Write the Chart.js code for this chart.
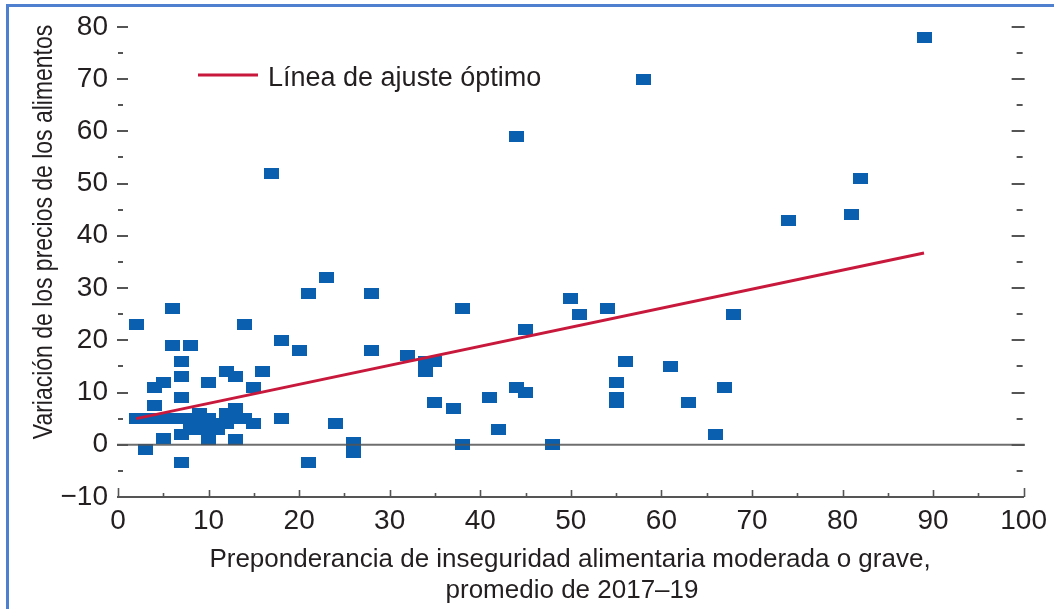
<!DOCTYPE html>
<html><head><meta charset="utf-8">
<script src="https://cdn.jsdelivr.net/npm/chart.js@4.4.1/dist/chart.umd.min.js"></script>
<style>
html,body{margin:0;padding:0;background:#fff;}
#wrap{position:relative;width:1054px;height:609px;overflow:hidden;background:#fff;}
#frame{position:absolute;left:6px;top:4px;width:2000px;height:2000px;border-top:3px solid #4f80d0;border-left:3px solid #4f80d0;pointer-events:none;}
canvas{position:absolute;left:0;top:0;}
</style></head><body>
<div id="wrap"><canvas id="c" width="1054" height="609"></canvas><div id="frame"></div></div>
<script>
// ---- data ----
const xValues = [2,3,2,3,4,5,6,7,8,
  4,5,4,5,6,6,7,7,7,7,7,
  8,8,9,9,9,10,10,10,10,
  11,11,12,12,12,13,13,13,13,
  14,14,15,15,16,17,18,18,20,
  21,21,23,24,26,26,28,28,
  32,34,34,35,35,37,38,38,41,42,
  44,44,45,45,48,50,51,54,55,55,55,
  56,58,61,63,66,67,68,74,81,82,89];
const yValues = [23,-1,5,5,5,5,5,5,5,
  11,12,7.6,1.2,26,19,16,13,9,2,-3.4,
  19,3,6,4,3,12,5,1,3,
  4,3,14,6,4,13,7,1,5,
  23,5,11,4,14,52,20,5,18,
  29,-3.4,32,4,0.5,-1.5,29,18,
  17,16,14,16,8,7,26,0,9,3,
  59,11,22,10,0,28,25,26,12,9,8,
  16,70,15,8,2,11,25,43,44,51,78];
const fitX = [2, 89];
const fitY = [5, 36.7];
const xTickValues = [0,10,20,30,40,50,60,70,80,90,100];
const yTickValues = [-10,0,10,20,30,40,50,60,70,80];
const legendLabel = 'Línea de ajuste óptimo';
const xTitle = ['Preponderancia de inseguridad alimentaria moderada o grave,', 'promedio de 2017–19'];
const yTitle = 'Variación de los precios de los alimentos';

const TXT = '#231f20';
const FONT = '"Liberation Sans", Arial, Helvetica, sans-serif';

// rectangular marker
const mk = document.createElement('canvas');
mk.width = 15; mk.height = 11;
const mc = mk.getContext('2d');
mc.fillStyle = '#0a60ae'; mc.fillRect(0,0,15,11);

const deco = {
  id: 'deco',
  afterDatasetsDraw(chart) {
    const {ctx, chartArea: a, scales: {x, y}} = chart;
    ctx.save();
    // zero line
    const y0 = y.getPixelForValue(0);
    ctx.strokeStyle = 'rgba(85,85,85,0.85)'; ctx.lineWidth = 2;
    ctx.beginPath(); ctx.moveTo(a.left - 1, y0); ctx.lineTo(a.right + 1, y0); ctx.stroke();
    // y dashes (left and right, inside)
    ctx.strokeStyle = '#555'; ctx.lineWidth = 2;
    y.ticks.forEach(t => {
      const v = t.value;
      if (v === y.min) return;
      const py = Math.round(y.getPixelForValue(v));
      const major = yTickValues.includes(v);
      ctx.beginPath();
      if (major) {
        ctx.moveTo(a.left - 1, py); ctx.lineTo(a.left + 10, py);
        ctx.moveTo(a.right - 12, py); ctx.lineTo(a.right + 1, py);
      } else {
        ctx.moveTo(a.left, py); ctx.lineTo(a.left + 5, py);
        ctx.moveTo(a.right - 7, py); ctx.lineTo(a.right - 1, py);
      }
      ctx.stroke();
    });
    // x ticks (upward, inside)
    ctx.lineWidth = 1.6;
    x.ticks.forEach(t => {
      const v = t.value;
      const px = Math.round(x.getPixelForValue(v)) + 0.5;
      let len = xTickValues.includes(v) ? 7 : 4;
      if (v === x.min || v === x.max) len = 9;
      ctx.beginPath(); ctx.moveTo(px, a.bottom); ctx.lineTo(px, a.bottom - len); ctx.stroke();
    });
    ctx.restore();
  },
  afterDraw(chart) {
    const {ctx} = chart;
    ctx.save();
    ctx.fillStyle = TXT;
    // x title
    ctx.font = '26px ' + FONT;
    ctx.textAlign = 'center'; ctx.textBaseline = 'alphabetic';
    ctx.fillText(xTitle[0], 570, 567);
    ctx.fillText(xTitle[1], 572, 598);
    // y title (condensed)
    ctx.save();
    ctx.translate(52, 232); ctx.rotate(-Math.PI / 2); ctx.scale(0.82, 1);
    ctx.font = '28px ' + FONT;
    ctx.fillText(yTitle, 0, 0);
    ctx.restore();
    // legend
    const ds = chart.data.datasets[0];
    ctx.strokeStyle = ds.borderColor; ctx.lineWidth = 3;
    ctx.beginPath(); ctx.moveTo(198, 75); ctx.lineTo(258, 75); ctx.stroke();
    ctx.font = '27px ' + FONT; ctx.textAlign = 'left';
    ctx.fillText(ds.label, 268, 86);
    ctx.restore();
  }
};

new Chart(document.getElementById('c'), {
  type: 'scatter',
  data: {
    datasets: [
      { label: legendLabel, data: fitX.map((v, i) => ({x: v, y: fitY[i]})), showLine: true,
        borderColor: '#c8193c', borderWidth: 3, pointRadius: 0, pointHoverRadius: 0, fill: false },
      { label: 'Países', data: xValues.map((v, i) => ({x: v, y: yValues[i]})),
        pointStyle: mk, pointRadius: 8, backgroundColor: '#0a60ae', borderColor: '#0a60ae' }
    ]
  },
  plugins: [deco],
  options: {
    responsive: false, animation: false, devicePixelRatio: 1,
    layout: { padding: { left: 0, top: 25, right: 27, bottom: 0 } },
    plugins: { legend: { display: false }, tooltip: { enabled: false } },
    scales: {
      x: {
        type: 'linear', min: 0, max: 100,
        afterFit: s => { s.height = 112; },
        border: { display: true, color: '#555', width: 2 },
        grid: { display: true, drawOnChartArea: false, drawTicks: false },
        ticks: { stepSize: 5, autoSkip: false, maxRotation: 0, padding: 7, color: TXT,
          font: { family: FONT, size: 28 },
          callback: v => xTickValues.includes(v) ? String(v) : '' }
      },
      y: {
        type: 'linear', min: -10, max: 80,
        afterFit: s => { s.width = 118; },
        border: { display: false },
        grid: { display: true, drawOnChartArea: false, drawTicks: false },
        ticks: { stepSize: 5, autoSkip: false, padding: 10, color: TXT,
          font: { family: FONT, size: 28 },
          callback: v => yTickValues.includes(v) ? String(v).replace('-', '\u2212') : '' }
      }
    }
  }
});
</script>
</body></html>
